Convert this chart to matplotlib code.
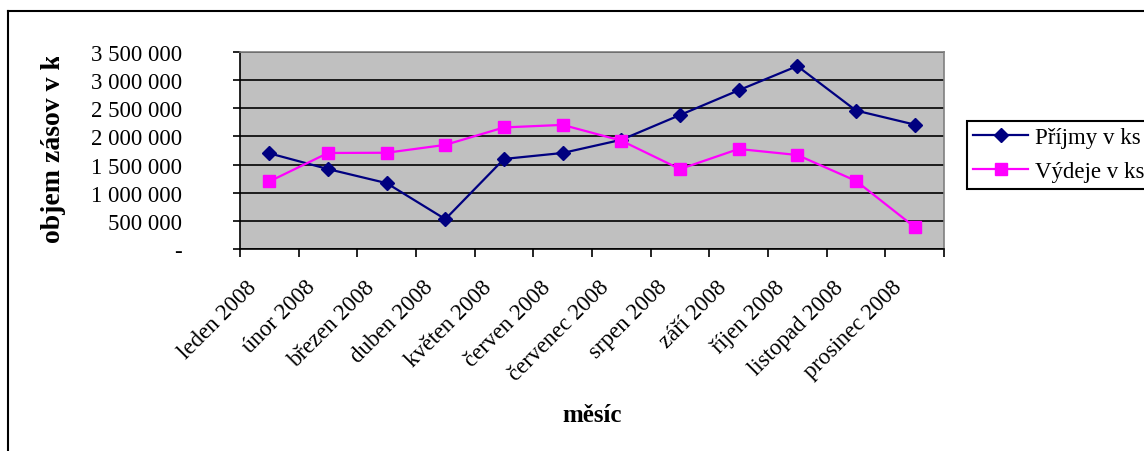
import numpy as np
import matplotlib
matplotlib.use("Agg")
import matplotlib.pyplot as plt
import matplotlib.transforms as mtransforms
from matplotlib.lines import Line2D
from matplotlib.patches import Rectangle
from matplotlib.ticker import FuncFormatter

months = ["leden 2008", "únor 2008", "březen 2008", "duben 2008", "květen 2008",
          "červen 2008", "červenec 2008", "srpen 2008", "září 2008", "říjen 2008",
          "listopad 2008", "prosinec 2008"]
prijmy = [1700000, 1420000, 1170000, 530000, 1600000, 1706000,
          1940000, 2380000, 2820000, 3250000, 2460000, 2210000]
vydeje = [1200000, 1706000, 1710000, 1850000, 2160000, 2205000,
          1925000, 1420000, 1777000, 1670000, 1210000, 390000]
y_ticks = [0, 500000, 1000000, 1500000, 2000000, 2500000, 3000000, 3500000]

plt.rcParams['font.family'] = ['Liberation Serif', 'DejaVu Serif']

W, H = 1144, 452
fig = plt.figure(figsize=(W / 100, H / 100), dpi=100)
fig.patch.set_facecolor('white')

# outer chart frame (top and left edges visible)
fx, fy = 8 / W, 1 - 12 / H
fig.add_artist(Line2D([fx, 1.0], [fy, fy], color='black', lw=1.5, transform=fig.transFigure))
fig.add_artist(Line2D([fx, fx], [fy, 0.0], color='black', lw=1.5, transform=fig.transFigure))

ax = fig.add_axes([240 / W, 1 - 250 / H, 704 / W, 197 / H])
ax.set_facecolor('#C0C0C0')

x = np.arange(len(months))
ax.plot(x, prijmy, color='#000080', lw=1.6, marker='D', ms=7.5, mfc='#000080', mec='#000080',
        label='Příjmy v ks', zorder=3)
ax.plot(x, vydeje, color='#FF00FF', lw=1.6, marker='s', ms=8.5, mfc='#FF00FF', mec='#FF00FF',
        label='Výdeje v ks', zorder=3)

ax.set_xlim(-0.5, len(months) - 0.5)
ax.set_ylim(0, 3500000)

# horizontal grid
ax.set_yticks(y_ticks)
ax.yaxis.grid(True, color='black', lw=1.2)
ax.set_axisbelow(True)
ax.yaxis.set_major_formatter(FuncFormatter(
    lambda v, p: '-' if v == 0 else f'{int(v):,}'.replace(',', ' ')))
ax.tick_params(axis='y', direction='out', length=5, width=1.2, pad=37, labelsize=16.5)

# tick marks at category boundaries, labels drawn separately
ax.set_xticks(np.arange(-0.5, len(months)))
ax.set_xticklabels([])
ax.tick_params(axis='x', direction='out', length=6, width=1.2)

label_tr = mtransforms.blended_transform_factory(ax.transData, ax.transAxes) + \
    mtransforms.ScaledTranslation(-0.23, -0.27, fig.dpi_scale_trans)
for i, m in enumerate(months):
    ax.text(i, 0, m, transform=label_tr, rotation=45, rotation_mode='anchor',
            ha='right', va='top', fontsize=16.5)

for side in ('top', 'right'):
    ax.spines[side].set_color('#808080')
    ax.spines[side].set_linewidth(1.2)
for side in ('left', 'bottom'):
    ax.spines[side].set_color('black')
    ax.spines[side].set_linewidth(1.2)

fig.text(592 / W, 1 - 416 / H, 'měsíc', ha='center', va='center', fontsize=18, fontweight='bold')

# y title, cut off at the top of its box
ylab = fig.text(53 / W, 1 - 243 / H, 'objem zásov v ks', rotation=90, ha='center', va='bottom',
                fontsize=20, fontweight='bold')
clip = Rectangle((0, 0), 1, 1 - 58 / H, transform=fig.transFigure, visible=False)
fig.add_artist(clip)
ylab.set_clip_path(clip)

leg = fig.legend(loc='upper left', bbox_to_anchor=(967 / W, 1 - 122 / H), fontsize=16.5,
                 frameon=True, fancybox=False, edgecolor='black', framealpha=1,
                 handlelength=2.4, labelspacing=0.55, borderpad=0.28, handletextpad=0.3,
                 borderaxespad=0)
leg.get_frame().set_linewidth(1.5)

fig.savefig('out.png', dpi=100)
